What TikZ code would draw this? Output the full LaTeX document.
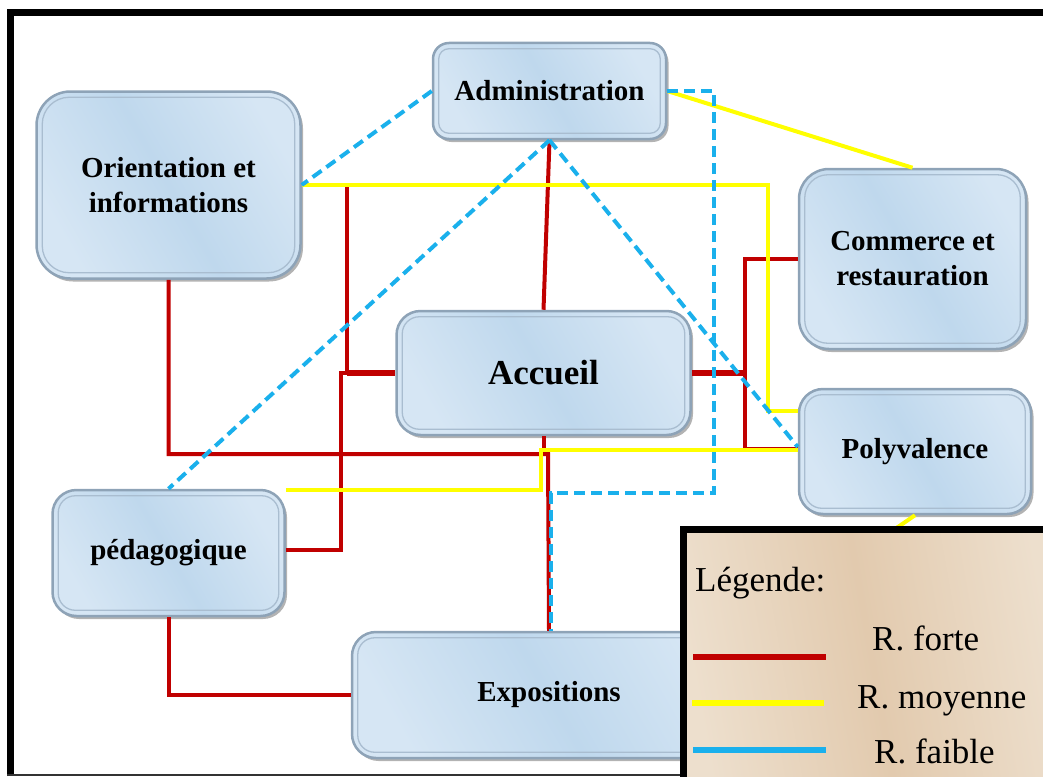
\documentclass[tikz,border=0pt]{standalone}
\usepackage{fontspec}
\setmainfont{Liberation Serif}
\usetikzlibrary{shadows}
\definecolor{rforte}{HTML}{C00000}
\definecolor{rmoy}{HTML}{FFFF00}
\definecolor{rfaible}{HTML}{1AB0EC}
\definecolor{boxedge}{HTML}{8EA3B7}
\definecolor{boxinner}{HTML}{A9BDD0}
\definecolor{boxlight}{HTML}{D6E6F4}
\definecolor{boxmid}{HTML}{BFD8ED}
\definecolor{legA}{HTML}{EDDFCD}
\definecolor{legB}{HTML}{E2CAAE}

\begin{document}
\begin{tikzpicture}[x=1pt,y=-1pt,
  box/.style={draw=boxedge, line width=2.5pt, rounded corners=#1,
    left color=boxlight, right color=boxlight, middle color=boxmid,
    shading angle=120,
    drop shadow={shadow xshift=2.5pt, shadow yshift=-3pt, opacity=0.6},
    font=\bfseries\fontsize{29}{35}\selectfont, align=center, inner sep=0pt},
  box/.default=24pt,
  innerline/.style={draw=boxinner, line width=1.3pt},
  forte/.style={draw=rforte, line width=4pt},
  moy/.style={draw=rmoy, line width=4pt},
  faible/.style={draw=rfaible, line width=4pt, dash pattern=on 11pt off 6pt},
  legtext/.style={font=\fontsize{35}{40}\selectfont, inner sep=0pt, anchor=base west},
]
\useasboundingbox (0,0) rectangle (1043,776);
\clip (0,0) rectangle (1043,776);

% outer frame
\draw[line width=7pt] (10.5,776) -- (10.5,12.5) -- (1043,12.5);
\draw[line width=1.5pt, black!80] (7,775) -- (1043,775);

% boxes
\node[box=16pt, minimum width=233pt, minimum height=96pt] (admin) at (549.5,91) {Administration};
\node[box=34pt, minimum width=264pt, minimum height=187pt] (orient) at (168.5,185) {Orientation et\\informations};
\node[box=30pt, minimum width=227pt, minimum height=180pt] (comm) at (912.5,259) {Commerce et\\restauration};
\node[box, minimum width=294pt, minimum height=124pt, font=\bfseries\fontsize{35}{40}\selectfont] (acc) at (543.5,373) {Accueil};
\node[box, minimum width=232pt, minimum height=125pt] (poly) at (915,451.5) {Polyvalence};
\node[box, minimum width=232pt, minimum height=126pt] (peda) at (168.5,553) {pédagogique};
\node[box, minimum width=394pt, minimum height=126pt] (expo) at (549,695) {Expositions};

\foreach \n/\r in {admin/10pt, orient/27pt, comm/23pt, acc/17pt, poly/17pt, peda/17pt, expo/17pt}
  \draw[innerline, rounded corners=\r] ([shift={(7,7)}]\n.north west) rectangle ([shift={(-7,-7)}]\n.south east);

% bend points of the links
\coordinate (ja) at (548,454);
\coordinate (jb) at (347,373);
\coordinate (jc) at (341,373);
\coordinate (jp) at (341,550);
\coordinate (jd) at (745,373);
\coordinate (je) at (745,448);
\coordinate (ye) at (768,411);
\coordinate (yf) at (541,490);
\coordinate (yg) at (541,450);
\coordinate (bh) at (714,493);
\coordinate (bp) at (0,447);

% strong links
\draw[forte] (admin.south) -- (acc.north);
\draw[forte] (orient.south) |- (ja) -- (expo.north);
\draw[forte] (acc.south) -- (acc.south |- ja);
\draw[forte] (orient.east) -| (jb);
\draw[forte, line width=6pt] (jb) -- (acc.west);
\draw[forte] (peda.east |- jp) -- (jp) -- (jc) -- (jb);
\draw[forte, line width=6pt] (acc.east) -- (jd);
\draw[forte] (comm.west) -| (je);
\draw[forte, line width=2pt] (je) -- (poly.west |- je);
\draw[forte] (peda.south) |- (expo.west);

% medium links
\draw[moy] (orient.east) -| (ye) -- (poly.west |- ye);
\draw[moy] (admin.east) -- (comm.north);
\draw[moy] (peda.north east |- yf) -- (yf) -- (yg) -- (poly.west |- yg);
\draw[moy] (poly.south) -- (expo.north east);

% weak links
\draw[faible] (admin.west) -- (orient.east);
\draw[faible] (admin.south) -- (peda.north);
\draw[faible] (admin.south) -- (poly.west |- bp);
\draw[faible] (admin.east) -| (bh) -| ([xshift=1.5pt]expo.north);

% legend
\draw[line width=7pt, left color=legA, right color=legA, middle color=legB, shading angle=100]
  (683.5,529) rectangle (1060,790);
\node[legtext] (lt) at (695,591) {Légende:};
\node[legtext] (lf) at (872,650) {R. forte};
\node[legtext] (lm) at (857,708) {R. moyenne};
\node[legtext] (lw) at (874,763) {R. faible};
\coordinate (lfa) at (693,657); \coordinate (lfb) at (826,657);
\coordinate (lma) at (692,703); \coordinate (lmb) at (824,703);
\coordinate (lwa) at (693,750); \coordinate (lwb) at (826,750);
\draw[draw=rforte, line width=6pt] (lfa) -- (lfb);
\draw[draw=rmoy, line width=6pt] (lma) -- (lmb);
\draw[draw=rfaible, line width=6pt] (lwa) -- (lwb);
\end{tikzpicture}
\end{document}
